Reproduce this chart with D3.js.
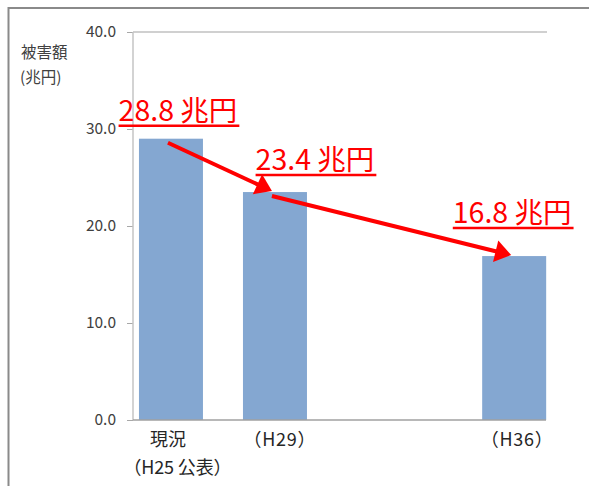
<!DOCTYPE html>
<html>
<head>
<meta charset="utf-8">
<script src="https://cdn.jsdelivr.net/npm/d3@7"></script>
<style>
  body { margin: 0; background: #fff; }
  text { font-family: "Noto Sans CJK JP", "Noto Sans", sans-serif; }
</style>
</head>
<body>
<script>
// data
var categories = ["現況", "（H29）", "（H36）"];
var subLabels = ["（H25 公表）", "", ""];
var damage = [29.0, 23.5, 16.9];          // bar heights (兆円)
var damageLabels = ["28.8 兆円", "23.4 兆円", "16.8 兆円"];
var yTicks = [0, 10, 20, 30, 40];

// layout
var w = 589,
    h = 486;
var plotLeft = 133, plotRight = 546, plotTop = 32, plotBottom = 420;
var slots = [0, 1, 3.3];                  // uneven spacing of bars along x
var barWidth = 64;
var labelOffset = [[7, -18], [40, -22], [-2, -33]];
var catShift = [-3, 4.5, 2.5], catWidth = [0, 72, 72];
var red = "#ff0000";

var svg = d3.select("body").append("svg")
    .attr("width", w)
    .attr("height", h);

svg.append("rect").attr("width", w).attr("height", h).attr("fill", "#fff");

// outer frame (only top and left visible)
svg.append("path")
    .attr("d", "M8.5," + (h + 5) + "V8H" + (w + 5))
    .attr("fill", "none")
    .attr("stroke", "#8a8a8a")
    .attr("stroke-width", 2);

var x = d3.scaleLinear()
    .domain([-0.365, 3.606])
    .range([plotLeft, plotRight]);

var y = d3.scaleLinear()
    .domain([0, 40])
    .range([plotBottom, plotTop]);

// top gridline
svg.append("line")
    .attr("x1", plotLeft).attr("x2", plotRight + 1)
    .attr("y1", y(40)).attr("y2", y(40))
    .attr("stroke", "#c0c0c0")
    .attr("stroke-width", 1.5);

// y axis
var yAxis = svg.append("g")
    .attr("transform", "translate(" + plotLeft + ",0)")
    .call(d3.axisLeft(y).tickValues(yTicks).tickFormat(d3.format(".1f")).tickSize(6).tickPadding(11));
yAxis.select(".domain").remove();
yAxis.selectAll(".tick line").attr("stroke", "#a8a8a8");
yAxis.selectAll(".tick text")
    .attr("fill", "#404040")
    .style("font-size", "15.5px")
    .style("font-family", "'Noto Sans CJK JP', sans-serif");

svg.append("line")
    .attr("x1", plotLeft).attr("x2", plotLeft)
    .attr("y1", y(40)).attr("y2", y(0))
    .attr("stroke", "#c4c4c4")
    .attr("stroke-width", 1.5);

// unit label
svg.append("text").attr("x", 21).attr("y", 58)
    .attr("fill", "#404040").style("font-size", "15.5px").text("被害額");
svg.append("text").attr("x", 20).attr("y", 83)
    .attr("fill", "#404040").style("font-size", "15.5px").text("(兆円)");

// bars
svg.selectAll("rect.bar")
    .data(damage)
    .enter().append("rect")
    .attr("class", "bar")
    .attr("x", (d, i) => x(slots[i]) - barWidth / 2)
    .attr("width", barWidth)
    .attr("y", d => y(d))
    .attr("height", d => y(0) - y(d))
    .attr("fill", "#84a7d1");

// x axis baseline
svg.append("line")
    .attr("x1", plotLeft).attr("x2", plotRight)
    .attr("y1", y(0)).attr("y2", y(0))
    .attr("stroke", "#a0a0a0")
    .attr("stroke-width", 1.5);

// category labels
svg.selectAll("text.cat")
    .data(categories)
    .enter().append("text")
    .attr("class", "cat")
    .attr("x", (d, i) => x(slots[i]) + catShift[i])
    .attr("y", 446)
    .attr("text-anchor", "middle")
    .attr("fill", "#262626")
    .style("font-size", "18px")
    .each(function(d, i) {
        if (catWidth[i]) d3.select(this).attr("textLength", catWidth[i]).attr("lengthAdjust", "spacing");
    })
    .text(d => d);

svg.selectAll("text.sub")
    .data(subLabels)
    .enter().append("text")
    .attr("class", "sub")
    .attr("x", (d, i) => x(slots[i]) + 6.5)
    .attr("y", 474)
    .attr("text-anchor", "middle")
    .attr("fill", "#262626")
    .style("font-size", "18px")
    .each(function(d) {
        if (d) d3.select(this).attr("textLength", 108).attr("lengthAdjust", "spacing");
    })
    .text(d => d);

// arrows between bar tops
d3.range(damage.length - 1).forEach(i => {
    var x0 = x(slots[i]) - 3, y0 = y(damage[i]) + 4,
        x1 = x(slots[i + 1]) - 3, y1 = y(damage[i + 1]) - 1;
    var len = Math.hypot(x1 - x0, y1 - y0),
        ux = (x1 - x0) / len, uy = (y1 - y0) / len;
    var headLen = 16, headHalf = 11;
    var bx = x1 - ux * headLen, by = y1 - uy * headLen;
    svg.append("line")
        .attr("x1", x0).attr("y1", y0)
        .attr("x2", bx + ux * 2).attr("y2", by + uy * 2)
        .attr("stroke", red)
        .attr("stroke-width", 4);
    svg.append("path")
        .attr("d", "M" + x1 + "," + y1 +
            "L" + (bx - uy * headHalf) + "," + (by + ux * headHalf) +
            "L" + (bx + uy * headHalf) + "," + (by - ux * headHalf) + "Z")
        .attr("fill", red);
});

// value annotations with underline
damageLabels.forEach((d, i) => {
    var cx = x(slots[i]) + labelOffset[i][0],
        by = y(damage[i]) + labelOffset[i][1];
    var t = svg.append("text")
        .attr("x", cx)
        .attr("y", by)
        .attr("text-anchor", "middle")
        .attr("fill", red)
        .style("font-size", "28.5px")
        .text(d);
    var tw = t.node().getComputedTextLength();
    svg.append("line")
        .attr("x1", cx - tw / 2).attr("x2", cx + tw / 2 + 2)
        .attr("y1", by + 5).attr("y2", by + 5)
        .attr("stroke", red)
        .attr("stroke-width", 2.5);
});
</script>
</body>
</html>
